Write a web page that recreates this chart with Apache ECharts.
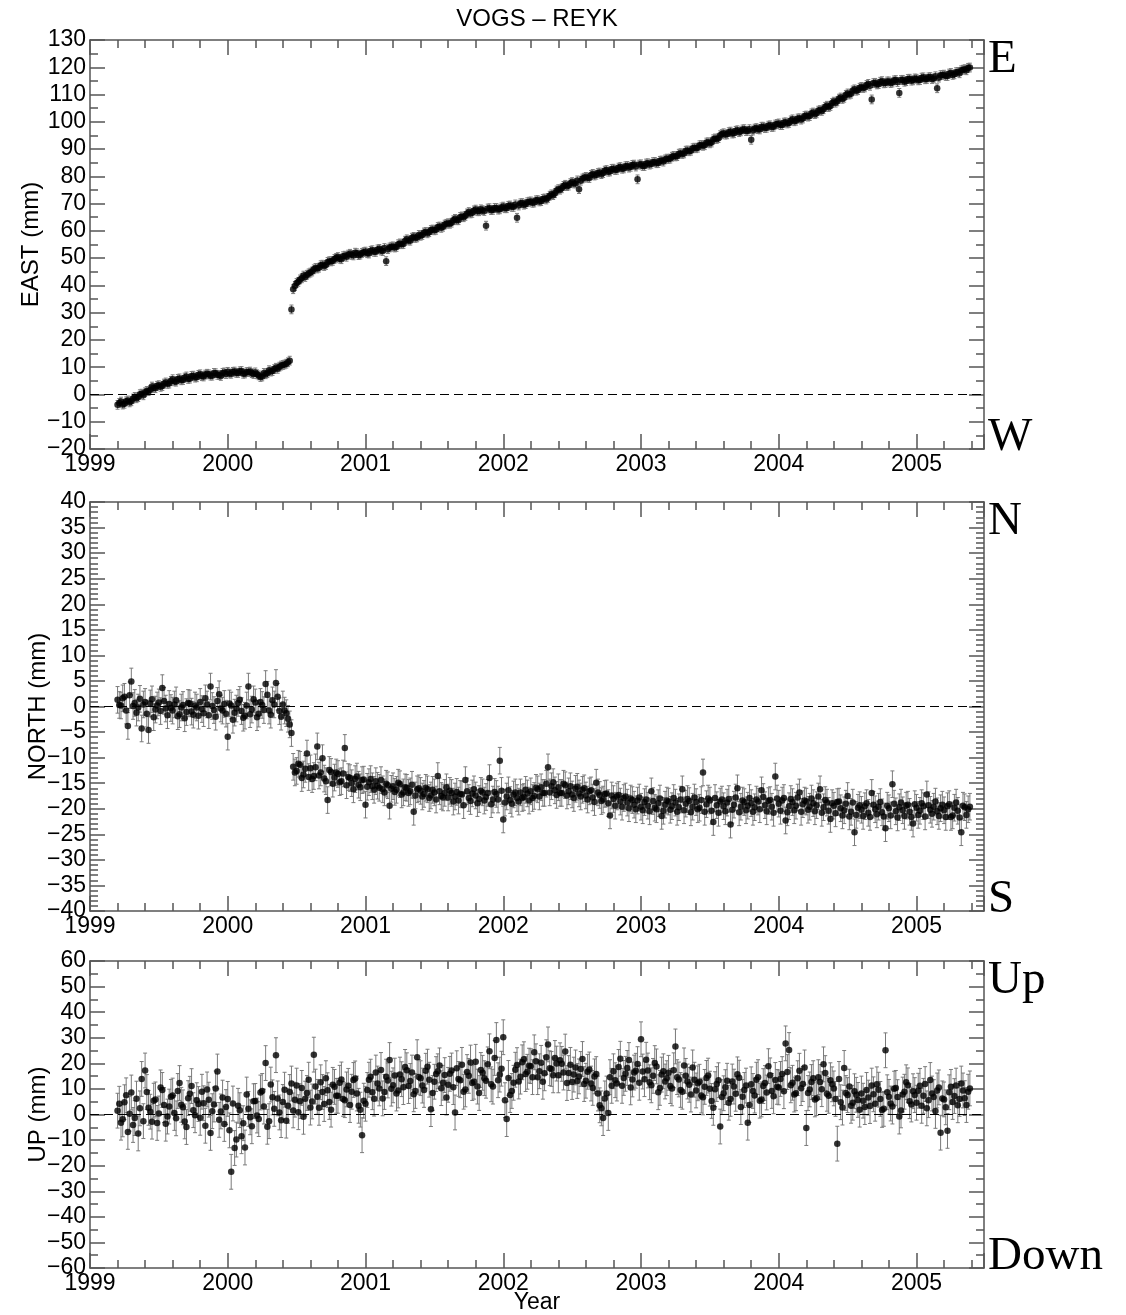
<!DOCTYPE html>
<html><head><meta charset="utf-8">
<script src="https://cdn.jsdelivr.net/npm/echarts@6/dist/echarts.min.js"></script>
<style>html,body{margin:0;padding:0;background:#fff}#c{width:1126px;height:1315px}</style>
</head><body><div id="c"></div>
<script>
// Regular GPS sampling: set A every 0.025 yr from 1999.2, set B offset by half a step
const sampleStart = 1999.2, sampleStep = 0.025;

const east = [
-3.8,-2.6,-3.4,-2.2,-2.5,-0.9,-1.0,0.3,
0.8,1.2,2.9,2.3,3.4,3.1,4.4,4.0,
5.6,4.7,5.9,5.3,6.6,5.8,6.9,6.3,
7.4,6.6,7.6,6.9,7.9,7.2,6.8,8.1,
8.3,7.6,8.4,7.9,8.6,7.7,8.2,7.8,
8.1,7.0,6.6,7.4,8.9,8.6,9.8,10.2,
10.8,11.3,12.4,38.6,40.9,42.2,43.6,43.9,
44.7,45.9,46.2,47.4,47.1,48.6,48.8,49.7,
50.4,49.6,50.9,51.3,51.2,52.0,51.1,51.9,
52.4,51.7,52.9,52.3,53.4,52.6,48.9,53.9,
54.3,54.1,55.4,55.2,56.9,56.4,57.8,57.6,
58.2,59.4,59.1,60.3,60.2,61.4,61.1,62.3,
62.8,63.0,64.4,63.9,65.3,65.5,66.9,66.6,
67.8,67.2,67.6,61.9,68.3,67.7,68.4,67.9,
68.9,68.3,69.3,68.8,64.8,70.1,69.6,70.5,
70.8,70.4,71.3,70.9,71.9,72.1,73.4,73.8,
75.3,75.6,76.9,76.6,77.9,77.4,75.3,79.2,
79.8,79.4,80.9,80.6,81.4,81.2,82.3,81.8,
82.8,82.4,83.4,82.9,83.8,83.5,84.3,78.9,
84.4,83.8,84.8,84.6,85.3,84.9,85.8,86.2,
86.4,87.2,87.3,88.3,88.2,89.4,89.2,90.3,
90.3,91.4,91.2,92.4,92.1,93.6,93.7,95.1,
95.8,95.4,96.4,95.8,96.9,96.5,97.3,96.7,
93.4,97.5,97.3,98.2,97.7,98.6,98.1,99.0,
99.4,98.8,99.8,99.6,100.9,100.4,101.3,101.2,
102.3,102.1,103.4,103.1,104.3,104.6,105.9,105.8,
107.4,107.5,108.9,108.8,110.4,110.3,111.9,111.6,
112.8,112.6,113.9,108.2,114.3,113.8,114.9,114.2,
114.8,114.4,115.3,110.6,115.4,114.9,115.8,115.2,
115.8,115.3,116.3,115.7,116.4,115.9,112.3,117.1,
117.3,116.8,117.9,117.4,118.3,118.9,119.3,119.8
];
const eastB = [
-3.1,-3.7,-2.5,-2.9,-1.5,-1.4,0.1,-0.3,
1.3,1.7,2.4,3.2,2.8,4.0,3.9,5.0,
4.8,5.7,5.2,6.2,5.7,6.8,6.2,7.2,
6.7,7.3,7.4,6.9,7.8,7.1,7.9,7.5,
7.7,8.3,7.9,8.5,7.6,8.2,8.4,7.5,
7.4,6.4,7.9,7.8,8.4,9.3,9.4,10.6,
11.0,11.8,31.2,39.8,41.3,42.6,43.1,44.4,
45.1,46.4,46.5,47.6,47.5,48.9,49.0,50.1,
49.8,50.7,50.5,51.6,51.0,51.8,51.3,52.2,
51.8,52.7,52.3,53.2,52.8,53.7,53.3,54.2,
53.9,55.1,55.1,56.4,56.5,57.5,57.4,58.5,
58.5,59.6,59.5,60.5,60.4,61.6,61.5,62.6,
62.6,63.9,63.9,65.1,65.0,66.4,66.4,67.5,
67.2,67.9,67.3,68.2,67.6,68.4,67.8,68.6,
68.3,69.2,68.8,69.7,69.3,70.2,69.8,70.7,
70.3,71.2,70.8,71.7,71.5,72.9,73.1,74.8,
75.1,76.5,76.4,77.5,77.4,78.5,78.4,79.5,
79.5,80.5,80.3,81.2,80.8,82.1,81.7,82.7,
82.3,83.2,82.8,83.7,83.2,84.2,83.6,84.3,
83.8,84.7,84.3,85.2,84.8,85.7,85.4,86.5,
86.5,87.5,87.4,88.5,88.4,89.5,89.4,90.5,
90.5,91.5,91.4,92.5,92.4,93.9,94.0,95.5,
95.3,96.2,95.7,96.7,96.2,97.2,96.6,97.3,
96.8,97.7,97.2,98.2,97.8,98.7,98.2,99.2,
98.8,99.7,99.4,100.5,100.2,101.2,100.8,102.1,
101.9,103.1,102.8,104.1,104.0,105.5,105.4,106.9,
107.0,108.5,108.4,109.9,110.0,111.5,111.4,112.5,
112.4,113.5,113.2,114.2,113.7,114.7,114.1,114.8,
114.2,115.2,114.6,115.3,114.7,115.7,115.1,115.9,
115.2,116.2,115.6,116.3,115.7,116.7,116.2,117.2,
116.8,117.7,117.2,118.2,117.8,119.1,118.9,119.9
];

const north = [
1.3,0.2,1.9,-3.8,4.9,0.7,-0.2,-4.3,
0.9,-4.6,1.4,-0.6,0.8,3.6,-0.4,0.5,
-0.8,1.2,-1.5,0.3,-1.1,0.6,-1.6,-0.2,
0.9,-1.3,0.4,3.9,-0.7,1.1,-0.4,0.5,
-5.9,0.2,-1.2,0.7,-0.9,-1.8,3.9,-0.6,
0.8,-1.4,0.3,4.4,-0.8,1.2,4.6,-0.9,
0.4,-1.3,-3.5,-11.8,-12.6,-11.4,-13.3,-9.2,
-12.1,-13.6,-7.8,-12.9,-14.1,-18.3,-12.8,-13.9,
-13.2,-14.6,-8.1,-13.8,-15.0,-14.2,-15.3,-14.4,
-19.2,-14.8,-15.6,-14.6,-15.9,-16.2,-15.1,-19.4,
-15.6,-16.3,-15.2,-16.8,-15.9,-16.6,-20.6,-16.2,
-16.5,-17.1,-16.2,-17.4,-16.8,-13.6,-17.5,-16.9,
-17.8,-16.9,-17.6,-18.4,-17.2,-14.4,-17.9,-17.0,
-17.4,-18.1,-16.8,-17.7,-14.0,-18.2,-17.1,-10.6,
-22.1,-17.6,-18.3,-17.2,-17.9,-16.8,-17.7,-17.0,
-16.6,-17.5,-16.2,-15.8,-16.9,-11.9,-15.6,-16.4,
-15.8,-16.9,-15.4,-16.6,-17.2,-16.1,-17.0,-16.3,
-17.4,-16.6,-17.8,-14.9,-17.3,-18.2,-17.0,-21.3,
-18.1,-17.6,-18.6,-17.9,-18.8,-18.0,-19.2,-18.4,
-19.6,-18.7,-19.4,-16.6,-19.8,-18.9,-21.4,-19.2,
-18.6,-19.5,-18.8,-19.7,-16.2,-19.0,-18.5,-19.6,
-18.7,-19.8,-12.9,-19.1,-18.4,-22.6,-19.3,-18.6,
-19.5,-18.8,-23.1,-19.2,-16.0,-19.6,-18.7,-19.4,
-18.9,-19.7,-18.6,-16.4,-19.3,-18.5,-19.6,-13.7,
-19.0,-18.4,-22.3,-19.5,-18.7,-19.4,-16.8,-19.1,
-18.6,-19.6,-18.9,-19.3,-16.2,-19.7,-18.8,-22.0,
-19.4,-18.7,-19.9,-20.3,-17.5,-20.6,-24.6,-19.8,
-20.2,-19.5,-20.8,-16.9,-20.1,-19.6,-20.7,-23.8,
-19.9,-15.2,-20.5,-19.7,-20.3,-19.4,-20.6,-22.9,
-19.8,-20.4,-19.5,-17.2,-20.2,-19.6,-20.5,-19.9,
-20.3,-19.5,-21.6,-19.8,-20.4,-24.6,-19.7,-20.1
];
const northB = [
0.3,1.6,-0.8,2.2,0.1,-1.2,1.5,0.4,
-1.4,0.6,-2.1,0.2,-0.9,1.1,-1.7,-0.3,
0.4,-1.9,-0.2,-2.3,0.7,-1.0,0.2,-1.8,
-0.5,1.6,-1.7,0.1,-2.0,2.4,-0.8,-1.4,
0.6,-2.6,-0.4,1.3,-2.2,0.2,-1.5,1.4,
-2.1,0.9,-0.7,2.3,-1.6,0.4,1.9,-2.0,
-0.8,-2.4,-5.2,-12.9,-11.2,-14.0,-12.2,-13.8,
-14.2,-11.9,-13.5,-10.1,-14.6,-12.4,-15.1,-12.9,
-14.8,-13.1,-15.4,-14.0,-16.2,-13.7,-15.8,-14.3,
-15.7,-14.2,-16.3,-15.5,-14.4,-16.8,-15.4,-16.1,
-16.7,-14.9,-17.2,-15.8,-16.9,-15.3,-17.4,-16.0,
-17.6,-15.9,-17.9,-16.3,-18.2,-16.6,-17.8,-15.8,
-16.5,-18.6,-16.7,-17.1,-19.3,-16.6,-18.5,-16.2,
-18.9,-16.5,-18.4,-16.9,-19.1,-16.7,-18.2,-16.5,
-18.8,-16.4,-19.0,-16.8,-18.6,-17.9,-16.3,-18.4,
-17.9,-15.9,-17.6,-16.9,-15.1,-16.8,-14.8,-17.3,
-16.9,-15.1,-17.4,-15.6,-17.9,-15.7,-17.6,-16.0,
-18.2,-16.4,-18.7,-16.8,-18.5,-17.1,-18.9,-17.4,
-19.4,-17.3,-19.6,-17.6,-19.9,-18.3,-20.1,-17.8,
-20.3,-18.2,-20.5,-18.5,-20.1,-18.0,-20.4,-18.4,
-20.2,-17.9,-20.6,-18.2,-20.3,-18.1,-20.7,-17.8,
-20.1,-18.3,-20.6,-18.0,-20.4,-17.9,-20.8,-18.2,
-20.5,-18.1,-20.2,-17.8,-20.7,-18.4,-20.3,-17.9,
-20.6,-18.2,-20.1,-17.7,-20.5,-18.3,-20.8,-18.0,
-20.4,-17.9,-20.7,-18.1,-20.3,-17.8,-20.6,-18.4,
-20.2,-18.0,-20.5,-17.6,-20.8,-18.3,-20.4,-18.9,
-20.9,-18.6,-21.3,-19.0,-21.5,-18.8,-21.2,-19.3,
-21.4,-18.9,-21.6,-19.2,-21.1,-18.7,-21.5,-19.4,
-21.3,-19.0,-21.7,-18.8,-21.4,-19.2,-21.6,-19.1,
-21.2,-18.9,-21.5,-19.3,-21.0,-18.6,-21.4,-19.2,
-21.6,-19.1,-21.3,-18.8,-21.7,-19.4,-21.2,-19.6
];

const up = [
1.5,-3.2,4.8,-6.8,8.6,-1.4,-7.4,13.9,
17.2,2.6,-2.8,5.9,0.4,9.6,-3.6,3.1,
7.4,-1.5,12.3,2.8,-4.9,8.1,1.7,5.6,
-1.3,4.4,9.8,-7.2,3.9,16.8,1.2,-3.7,
6.1,-22.4,-13.1,3.4,-8.5,-12.9,2.2,-4.6,
5.3,-1.8,9.2,20.1,-2.6,6.7,23.2,0.8,
4.9,-2.4,8.8,1.6,11.3,5.2,-0.9,8.4,
2.7,23.4,6.9,12.6,4.1,9.5,1.9,10.8,
7.3,13.7,5.6,11.2,8.9,14.1,3.4,-8.1,
4.2,13.6,8.7,16.4,10.2,6.3,14.8,21.3,
11.4,8.2,15.6,10.7,17.3,13.1,7.9,22.4,
14.2,9.6,18.7,2.1,12.8,16.9,10.3,15.4,
11.6,17.2,0.8,13.9,19.4,9.8,15.1,12.3,
20.6,8.4,16.3,13.2,24.7,10.9,29.1,15.6,
30.2,-1.8,7.6,12.4,19.3,14.8,21.6,16.7,
18.9,24.3,14.6,20.2,16.1,27.4,17.8,22.1,
15.3,19.8,24.6,16.2,12.7,18.4,14.9,21.7,
13.2,17.6,10.4,15.8,3.6,-1.4,8.2,14.6,
16.9,12.1,21.8,14.3,18.2,10.6,16.4,19.7,
29.4,13.8,17.2,11.4,20.1,8.7,15.6,12.9,
16.3,10.2,26.6,13.7,8.9,15.1,11.6,18.4,
9.4,12.8,6.7,14.3,10.1,2.6,11.9,-4.7,
8.3,13.2,6.1,10.9,15.7,2.9,9.6,-3.2,
11.8,7.4,14.6,5.9,12.3,18.9,9.2,13.5,
10.6,15.8,27.8,25.2,12.4,8.3,17.1,11.9,
-5.3,9.8,14.2,6.4,12.7,19.6,8.1,13.4,
10.2,-11.4,4.8,18.2,7.6,3.4,9.1,5.7,
8.2,2.9,6.6,11.3,4.2,9.7,1.8,25.1,
6.9,3.1,10.4,-0.8,7.8,12.6,5.2,9.1,
4.6,11.2,7.3,2.4,13.5,6.8,9.4,-7.1,
5.9,-6.4,10.8,7.2,3.6,12.1,6.4,8.9
];
const upB = [
4.2,-1.9,7.5,0.3,-4.1,6.2,2.4,-2.6,
8.8,1.1,5.4,-3.3,10.6,3.7,-0.8,6.9,
0.6,9.2,3.8,-2.7,6.4,11.1,-0.3,4.1,
8.9,-4.4,5.8,1.3,10.2,-2.1,6.6,2.9,
-6.2,4.3,-9.8,1.7,-3.4,7.8,-1.1,5.2,
-0.4,8.6,3.1,-4.8,11.7,2.2,6.3,-2.2,
9.7,3.4,12.1,5.8,0.9,10.4,6.2,13.6,
5.1,10.9,2.6,8.8,14.2,4.9,11.6,7.3,
12.4,6.1,9.8,3.7,13.5,8.2,1.9,5.4,
9.6,14.8,6.2,12.1,17.4,8.8,13.3,10.1,
15.2,9.4,13.8,18.6,11.1,16.4,9.2,14.7,
11.3,17.1,13.6,8.4,15.8,19.2,12.4,6.6,
15.9,10.7,18.1,13.4,8.9,16.6,20.3,12.8,
10.9,17.4,14.2,19.6,11.8,22.1,13.4,17.9,
5.6,14.3,9.2,17.5,12.9,20.4,15.8,19.1,
14.6,20.8,16.9,12.8,22.4,18.1,15.3,19.9,
21.2,16.4,12.3,19.4,15.6,13.1,17.8,11.9,
16.7,12.1,14.9,8.2,2.4,6.3,0.6,11.2,
13.4,18.6,11.2,15.9,21.3,13.7,17.1,12.4,
16.8,21.4,12.6,15.1,18.8,10.4,16.9,14.2,
11.1,17.3,14.6,9.6,19.2,12.9,7.8,13.6,
12.2,7.4,10.8,15.2,5.3,9.9,13.4,6.8,
10.7,4.6,12.9,8.1,14.4,6.9,11.3,3.7,
9.2,13.6,5.4,11.1,8.6,15.3,7.1,10.8,
13.9,9.1,16.6,11.4,7.8,14.2,10.3,18.4,
8.4,12.7,5.9,14.6,9.9,16.2,7.3,11.8,
6.1,13.9,2.7,8.4,10.9,4.6,7.7,1.9,
5.4,9.6,3.3,7.9,11.8,6.1,2.2,8.7,
4.3,10.1,6.8,1.6,8.9,11.4,3.9,7.6,
9.3,3.4,11.9,5.6,8.2,1.4,10.6,6.3,
2.8,8.7,4.9,11.3,6.1,9.4,3.7,10.2
];

// typical 1-sigma error bar half-length per component (mm)
const sigmaEast = 1.6, sigmaNorth = 2.6, sigmaUp = 6.8;

const yearTicks = [1999, 2000, 2001, 2002, 2003, 2004, 2005];
const xMin = 1999, xMax = 2005.49;

const years = east.map((_, i) => +(sampleStart + i * sampleStep).toFixed(4));
const yearsB = eastB.map((_, i) => +(sampleStart + (i + 0.5) * sampleStep).toFixed(4));

const FONT = '"Liberation Sans", Arial, Helvetica, sans-serif';
const SERIF = '"Liberation Serif", "Times New Roman", serif';
const AX = '#555';

const panels = [
  {name: 'EAST (mm)', a: east, b: eastB, sig: sigmaEast, min: -20, max: 130, interval: 10, minorSplit: 2,
   top: 40, height: 409, nameGap: 47, hiLabel: 'E', loLabel: 'W'},
  {name: 'NORTH (mm)', a: north, b: northB, sig: sigmaNorth, min: -40, max: 40, interval: 5, minorSplit: 5,
   top: 502, height: 409, nameGap: 40, hiLabel: 'N', loLabel: 'S'},
  {name: 'UP (mm)', a: up, b: upB, sig: sigmaUp, min: -60, max: 60, interval: 10, minorSplit: 2,
   top: 961, height: 307, nameGap: 40, hiLabel: 'Up', loLabel: 'Down'}
];

const fmtY = v => v < 0 ? '\u2212' + (-v) : String(v);
const fmtX = v => yearTicks.indexOf(v) >= 0 ? String(v) : '';

function errRender(sig) {
  return function (params, api) {
    const x = api.value(0), y = api.value(1);
    const a = api.coord([x, y - sig]);
    const b = api.coord([x, y + sig]);
    const cw = 2;
    const st = {stroke: '#7a7a7a', lineWidth: 1};
    return {type: 'group', children: [
      {type: 'line', shape: {x1: a[0], y1: a[1], x2: b[0], y2: b[1]}, style: st},
      {type: 'line', shape: {x1: a[0] - cw, y1: a[1], x2: a[0] + cw, y2: a[1]}, style: st},
      {type: 'line', shape: {x1: b[0] - cw, y1: b[1], x2: b[0] + cw, y2: b[1]}, style: st}
    ]};
  };
}

const grids = [], xAxes = [], yAxes = [], series = [], graphics = [];
const lineSt = {color: AX, width: 1.5};

panels.forEach((p, k) => {
  grids.push({left: 90, top: p.top, width: 894, height: p.height, containLabel: false, outerBoundsMode: 'none'});
  const xb = {gridIndex: k, type: 'value', min: xMin, max: xMax, splitLine: {show: false}};
  xAxes.push(Object.assign({}, xb, {
    position: 'bottom', interval: 1,
    axisLine: {show: true, onZero: false, lineStyle: lineSt},
    axisTick: {show: true, inside: true, length: 15, lineStyle: lineSt},
    axisLabel: {show: true, margin: 4, color: '#000', fontSize: 23, fontFamily: FONT, formatter: fmtX},
    name: k === 2 ? 'Year' : '', nameLocation: 'middle', nameGap: 23, nameMoveOverlap: false,
    nameTextStyle: {color: '#000', fontSize: 23, fontFamily: FONT}
  }));
  xAxes.push(Object.assign({}, xb, {
    position: 'bottom', interval: 0.2,
    axisLine: {show: false, onZero: false},
    axisTick: {show: true, inside: true, length: 8, lineStyle: lineSt},
    axisLabel: {show: false}
  }));
  xAxes.push(Object.assign({}, xb, {
    position: 'top', interval: 1,
    axisLine: {show: true, onZero: false, lineStyle: lineSt},
    axisTick: {show: true, inside: true, length: 15, lineStyle: lineSt},
    axisLabel: {show: false}
  }));
  xAxes.push(Object.assign({}, xb, {
    position: 'top', interval: 0.2,
    axisLine: {show: false, onZero: false},
    axisTick: {show: true, inside: true, length: 8, lineStyle: lineSt},
    axisLabel: {show: false}
  }));
  const yb = {gridIndex: k, type: 'value', min: p.min, max: p.max, interval: p.interval, splitLine: {show: false},
    axisLine: {show: true, onZero: false, lineStyle: lineSt},
    axisTick: {show: true, inside: true, length: 15, lineStyle: lineSt},
    minorTick: {show: true, splitNumber: p.minorSplit, length: 8, lineStyle: lineSt}};
  yAxes.push(Object.assign({}, yb, {
    position: 'left',
    axisLabel: {show: true, margin: 4, color: '#000', fontSize: 23, fontFamily: FONT, formatter: fmtY},
    name: p.name, nameLocation: 'middle', nameGap: p.nameGap, nameRotate: 90, nameMoveOverlap: false,
    nameTextStyle: {color: '#000', fontSize: 24, fontFamily: FONT}
  }));
  yAxes.push(Object.assign({}, yb, {position: 'right', axisLabel: {show: false}}));

  const pts = years.map((t, i) => [t, p.a[i]]).concat(yearsB.map((t, i) => [t, p.b[i]]));
  series.push({type: 'custom', xAxisIndex: 4 * k, yAxisIndex: 2 * k, renderItem: errRender(p.sig),
    data: pts, silent: true, z: 2, clip: true});
  series.push({type: 'scatter', xAxisIndex: 4 * k, yAxisIndex: 2 * k, data: pts, symbol: 'circle',
    symbolSize: 6.5, itemStyle: {color: '#000'}, silent: true, z: 3,
    markLine: {silent: true, symbol: 'none', label: {show: false}, animation: false,
      lineStyle: {type: [9, 5], color: '#000', width: 1},
      data: [{yAxis: 0}]}});

  graphics.push({type: 'text', left: 988, top: p.top - 4,
    style: {text: p.hiLabel, font: '47px ' + SERIF, fill: '#000'}});
  graphics.push({type: 'text', left: 988, top: p.top + p.height - 35,
    style: {text: p.loLabel, font: '47px ' + SERIF, fill: '#000'}});
});

graphics.push({type: 'text', x: 537, y: 7,
  style: {text: 'VOGS \u2013 REYK', font: '24px ' + FONT, fill: '#000', textAlign: 'center', textVerticalAlign: 'top'}});

const chart = echarts.init(document.getElementById('c'), null, {renderer: 'canvas'});
chart.setOption({
  animation: false,
  backgroundColor: '#fff',
  grid: grids, xAxis: xAxes, yAxis: yAxes, series: series,
  graphic: graphics
});
</script>
</body></html>
